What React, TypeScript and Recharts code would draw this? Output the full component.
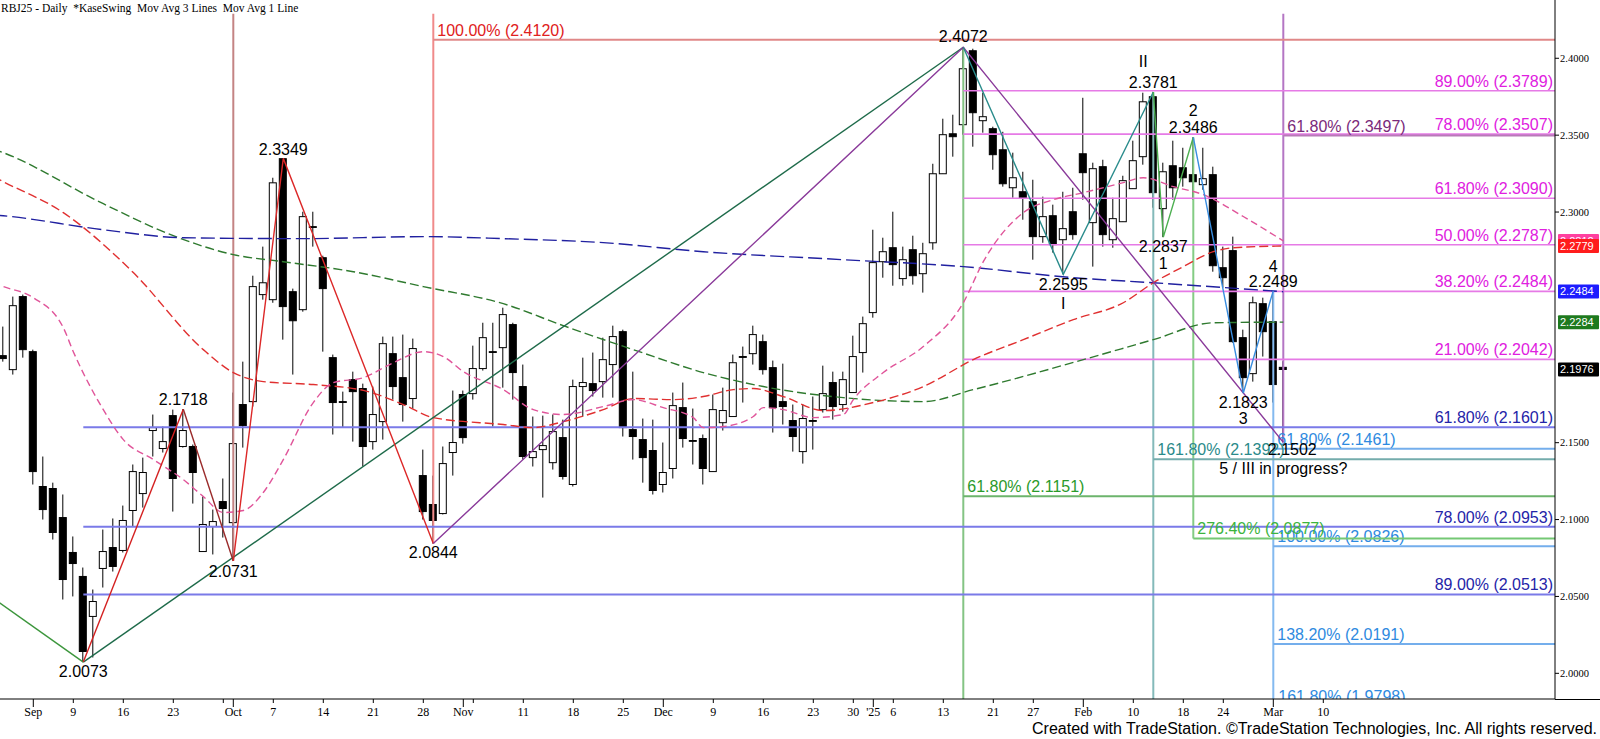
import React from 'react';
import { ComposedChart, Bar, Line, XAxis, YAxis, ReferenceLine, ReferenceDot } from 'recharts';

const SANS = '"Liberation Sans", Arial, sans-serif';
const SERIF = '"Liberation Serif", "Times New Roman", serif';

const X_MIN = -0.33;
const X_MAX = 155.17;
const Y_MIN = 1.9833;
const Y_MAX = 2.4379;
const TOP_P = 2.4289;
const PLOT_BOTTOM = 699;

// ---------- candles (index 0 = Aug 28, 2024 ... 128 = Mar 4, 2025) ----------
const opens = [
  2.2066, 2.1975, 2.2450, 2.2092, 2.1215, 2.1202, 2.1013, 2.0786, 2.0630, 2.0370,
  2.0682, 2.0818, 2.0799, 2.1059, 2.1169, 2.1579, 2.1462, 2.1676, 2.1475, 2.1475,
  2.0792, 2.0955, 2.1117, 2.0980, 2.1748, 2.1767, 2.2463, 2.2430, 2.3347, 2.2482,
  2.2365, 2.2905, 2.2703, 2.2053, 2.1767, 2.1910, 2.1852, 2.1507, 2.1637, 2.2079,
  2.1923, 2.1787, 2.1286, 2.1098, 2.1039, 2.1436, 2.1813, 2.1819, 2.1982, 2.2092,
  2.2118, 2.2268, 2.1865, 2.1403, 2.1455, 2.1370, 2.1533, 2.1228, 2.1865, 2.1884,
  2.1897, 2.2008, 2.2222, 2.1585, 2.1520, 2.1449, 2.1228, 2.1332, 2.1728, 2.1514,
  2.1527, 2.1312, 2.1630, 2.1670, 2.2060, 2.2079, 2.2157, 2.1988, 2.1767, 2.1644,
  2.1442, 2.1644, 2.1715, 2.1891, 2.1748, 2.1826, 2.2086, 2.2346, 2.2677, 2.2768,
  2.2567, 2.2755, 2.2599, 2.2800, 2.3249, 2.3509, 2.3568, 2.4049, 2.3594, 2.3542,
  2.3405, 2.3158, 2.3132, 2.3067, 2.2840, 2.2976, 2.2820, 2.3002, 2.3379, 2.2931,
  2.3295, 2.2820, 2.2937, 2.3152, 2.3360, 2.3750, 2.3022, 2.3301, 2.3288, 2.3243,
  2.3178, 2.3243, 2.2638, 2.2749, 2.2183, 2.1949, 2.2404, 2.2287, 2.1990,
];
const highs = [
  2.2255, 2.2450, 2.2463, 2.2105, 2.1410, 2.1240, 2.1163, 2.0890, 2.0688, 2.0545,
  2.0935, 2.1007, 2.1091, 2.1358, 2.1403, 2.1683, 2.1605, 2.1715, 2.1718, 2.1488,
  2.1150, 2.1065, 2.1267, 2.1826, 2.2027, 2.2586, 2.2775, 2.3223, 2.3349, 2.2502,
  2.3002, 2.3002, 2.2716, 2.2073, 2.1832, 2.1962, 2.1884, 2.1865, 2.2190, 2.2190,
  2.2203, 2.2177, 2.1455, 2.1286, 2.1475, 2.1839, 2.1839, 2.2131, 2.2280, 2.2280,
  2.2378, 2.2280, 2.2008, 2.1670, 2.1676, 2.1683, 2.1650, 2.1910, 2.2053, 2.2086,
  2.2183, 2.2261, 2.2235, 2.1962, 2.1657, 2.1650, 2.1501, 2.1826, 2.1891, 2.1722,
  2.1553, 2.1813, 2.1858, 2.2073, 2.2125, 2.2261, 2.2203, 2.2034, 2.2014, 2.1748,
  2.1748, 2.1800, 2.2001, 2.1962, 2.1962, 2.2196, 2.2320, 2.2885, 2.2833, 2.3002,
  2.2775, 2.2846, 2.2800, 2.3314, 2.3607, 2.3633, 2.4072, 2.4062, 2.3776, 2.3555,
  2.3522, 2.3386, 2.3262, 2.3210, 2.3100, 2.3048, 2.3132, 2.3158, 2.3743, 2.3321,
  2.3340, 2.3093, 2.3236, 2.3464, 2.3776, 2.3781, 2.3321, 2.3464, 2.3418, 2.3486,
  2.3418, 2.3295, 2.2775, 2.2840, 2.2235, 2.2450, 2.2443, 2.2489, 2.2030,
];
const lows = [
  2.2027, 2.1943, 2.2053, 2.1228, 2.1000, 2.0870, 2.0480, 2.0500, 2.0073, 2.0103,
  2.0558, 2.0662, 2.0786, 2.0955, 2.1078, 2.1410, 2.1436, 2.1052, 2.1468, 2.1104,
  2.0792, 2.0773, 2.0883, 2.0731, 2.1468, 2.1735, 2.2430, 2.2410, 2.2170, 2.1943,
  2.2352, 2.2775, 2.2092, 2.1553, 2.1598, 2.1507, 2.1345, 2.1455, 2.1520, 2.1780,
  2.1637, 2.1722, 2.1000, 2.0844, 2.1033, 2.1286, 2.1494, 2.1780, 2.1969, 2.1605,
  2.1858, 2.1780, 2.1390, 2.1345, 2.1143, 2.1325, 2.1260, 2.1215, 2.1670, 2.1800,
  2.1793, 2.1793, 2.1540, 2.1390, 2.1240, 2.1163, 2.1176, 2.1267, 2.1468, 2.1358,
  2.1228, 2.1312, 2.1579, 2.1670, 2.1761, 2.2008, 2.1943, 2.1566, 2.1618, 2.1442,
  2.1364, 2.1455, 2.1696, 2.1650, 2.1702, 2.1826, 2.1956, 2.2313, 2.2573, 2.2521,
  2.2521, 2.2528, 2.2476, 2.2755, 2.3249, 2.3360, 2.3503, 2.3425, 2.3516, 2.3275,
  2.3165, 2.3093, 2.2950, 2.2690, 2.2800, 2.2736, 2.2595, 2.2820, 2.3080, 2.2645,
  2.2775, 2.2768, 2.2937, 2.3152, 2.3308, 2.3028, 2.2837, 2.3080, 2.3165, 2.3080,
  2.3145, 2.2612, 2.2508, 2.2150, 2.1823, 2.1897, 2.2060, 2.1761, 2.1502,
];
const closes = [
  2.2047, 2.2391, 2.2105, 2.1312, 2.1065, 2.0916, 2.0610, 2.0714, 2.0142, 2.0467,
  2.0792, 2.0695, 2.0994, 2.1312, 2.1306, 2.1598, 2.1507, 2.1267, 2.1579, 2.1306,
  2.0968, 2.0987, 2.1072, 2.1494, 2.1611, 2.2515, 2.2540, 2.3190, 2.2385, 2.2293,
  2.2970, 2.2901, 2.2502, 2.1761, 2.1764, 2.1832, 2.1475, 2.1683, 2.2144, 2.1865,
  2.1748, 2.2112, 2.1052, 2.0994, 2.1364, 2.1501, 2.1533, 2.1982, 2.2183, 2.2089,
  2.2333, 2.1956, 2.1410, 2.1442, 2.1481, 2.1572, 2.1280, 2.1865, 2.1891, 2.1839,
  2.2040, 2.2190, 2.1598, 2.1540, 2.1403, 2.1189, 2.1306, 2.1741, 2.1527, 2.1511,
  2.1332, 2.1715, 2.1709, 2.2020, 2.2056, 2.2203, 2.1975, 2.1728, 2.1735, 2.1540,
  2.1657, 2.1640, 2.1819, 2.1735, 2.1910, 2.2060, 2.2274, 2.2671, 2.2742, 2.2658,
  2.2690, 2.2586, 2.2729, 2.3249, 2.3503, 2.3490, 2.3932, 2.3646, 2.3620, 2.3373,
  2.3184, 2.3223, 2.3093, 2.2840, 2.2970, 2.2788, 2.2892, 2.2853, 2.3256, 2.3282,
  2.2853, 2.2957, 2.3204, 2.3334, 2.3717, 2.3126, 2.3262, 2.3158, 2.3223, 2.3197,
  2.3217, 2.2651, 2.2573, 2.2157, 2.1923, 2.2410, 2.2222, 2.1878, 2.1976,
];

// ---------- moving averages (sampled) ----------
const maGreen: [number, number][] = [
  [-1, 2.3410], [0, 2.3386], [10, 2.3054], [17, 2.2846], [23, 2.2723], [28, 2.2677], [35, 2.2612],
  [42, 2.2515], [50, 2.2404], [56, 2.2261], [63, 2.2105], [70, 2.1956], [76, 2.1865], [84, 2.1793],
  [92, 2.1767], [97, 2.1845], [108, 2.2040], [115, 2.2170], [121, 2.2280], [128, 2.2284],
];
const maBlue: [number, number][] = [
  [-1, 2.2982], [0, 2.2976], [10, 2.2885], [18, 2.2833], [30, 2.2827], [42, 2.2840], [50, 2.2827],
  [60, 2.2801], [70, 2.2742], [84, 2.2690], [96, 2.2645], [107, 2.2573], [115, 2.2540], [128, 2.2482],
];
const maRed: [number, number][] = [
  [-1, 2.3230], [0, 2.3197], [6, 2.2996], [13, 2.2606], [20, 2.2105], [23, 2.1956], [26, 2.1897],
  [31, 2.1878], [36, 2.1840], [40, 2.1748], [43, 2.1663], [50, 2.1618], [53, 2.1598], [56, 2.1637],
  [60, 2.1715], [63, 2.1787], [67, 2.1780], [70, 2.1800], [73, 2.1845], [75, 2.1852], [78, 2.1800],
  [82, 2.1709], [87, 2.1761], [92, 2.1865], [97, 2.2040], [102, 2.2170], [107, 2.2300], [112, 2.2410],
  [115, 2.2540], [118, 2.2645], [121, 2.2742], [123, 2.2768], [128, 2.2779],
];
const maPink: [number, number][] = [
  [-1, 2.2540], [0, 2.2515], [3, 2.2443], [6, 2.2248], [7, 2.2092], [10, 2.1715], [12, 2.1520],
  [15, 2.1390], [18, 2.1260], [20, 2.1150], [22, 2.1046], [24, 2.1059], [26, 2.1176], [28, 2.1390],
  [31, 2.1761], [33, 2.1890], [36, 2.1923], [39, 2.2020], [42, 2.2092], [44, 2.2060], [46, 2.1962],
  [50, 2.1845], [53, 2.1715], [56, 2.1683], [60, 2.1735], [63, 2.1780], [66, 2.1728], [69, 2.1663],
  [70, 2.1598], [72, 2.1605], [75, 2.1670], [76, 2.1728], [78, 2.1715], [81, 2.1663], [84, 2.1683],
  [85, 2.1780], [88, 2.1956], [92, 2.2125], [96, 2.2410], [98, 2.2677], [102, 2.2996], [105, 2.3080],
  [108, 2.3126], [112, 2.3191], [114, 2.3223], [117, 2.3165], [120, 2.3113], [124, 2.2971], [128, 2.2812],
];

// ---------- swing lines ----------
const greenLead: [number, number][] = [[-1, 2.0487], [8, 2.0073]];
const greenRise: [number, number][] = [[8, 2.0073], [96, 2.4072]];
const redUp: [number, number][] = [[8, 2.0073], [18, 2.1718]];
const redDown: [number, number][] = [[18, 2.1718], [23, 2.0731]];
const redZig: [number, number][] = [[23, 2.0731], [28, 2.3349], [43, 2.0844]];
const purpleSwing: [number, number][] = [[43, 2.0844], [96, 2.4072], [128, 2.1502]];
const tealSwing: [number, number][] = [[96, 2.4072], [106, 2.2595], [115, 2.3781]];
const greenWave: [number, number][] = [[115, 2.3781], [116, 2.2837], [119, 2.3486]];
const blueWave: [number, number][] = [[119, 2.3486], [124, 2.1823], [127, 2.2489]];

// ---------- fib levels ----------
const magentaFibs: [string, number][] = [
  ['89.00%', 2.3789], ['78.00%', 2.3507], ['61.80%', 2.3090], ['50.00%', 2.2787], ['38.20%', 2.2484], ['21.00%', 2.2042],
];
const magentaStart = 96;
const blueFibs: [string, number][] = [['61.80%', 2.1601], ['78.00%', 2.0953], ['89.00%', 2.0513]];
const blueStart = 8;
const lightBlueFibs: [string, number][] = [['61.80%', 2.1461], ['100.00%', 2.0826], ['138.20%', 2.0191]];
const lightBlueLow: [string, number] = ['161.80%', 1.9798];
const lightBlueStart = 127;
const redFib: [string, number] = ['100.00%', 2.4120];
const redFibStart = 43;
const purpleFib: [string, number] = ['61.80%', 2.3497];
const purpleFibStart = 128;
const tealFib: [string, number] = ['161.80%', 2.1392];
const tealFibStart = 115;
const greenFibA: [string, number] = ['61.80%', 2.1151];
const greenFibAStart = 96;
const greenFibB: [string, number] = ['276.40%', 2.0877];
const greenFibBStart = 119;

// vertical markers: [index, from price, to price]
const vRedA: [number, number, number] = [23, TOP_P, 2.0731];
const vRedB: [number, number, number] = [43, TOP_P, 2.0844];
const vGreenA: [number, number, number] = [96, 2.4072, Y_MIN];
const vTeal: [number, number, number] = [115, 2.3781, Y_MIN];
const vGreenB: [number, number, number] = [119, 2.3486, 2.0877];
const vLightBlue: [number, number, number] = [127, 2.2489, Y_MIN];
const vPurple: [number, number, number] = [128, TOP_P, 2.1502];

// ---------- notes ----------
const notes: [number, number, string][] = [
  [28, 2.3349, '2.3349'], [18, 2.1718, '2.1718'], [23, 2.0731, '2.0731'], [8, 2.0073, '2.0073'],
  [43, 2.0844, '2.0844'], [96, 2.4072, '2.4072'], [115, 2.3781, '2.3781'], [115, 2.3781, 'II'],
  [119, 2.3486, '2.3486'], [119, 2.3486, '2'], [116, 2.2837, '2.2837'], [116, 2.2837, '1'],
  [106, 2.2595, '2.2595'], [106, 2.2595, 'I'], [124, 2.1823, '2.1823'], [124, 2.1823, '3'],
  [127, 2.2489, '2.2489'], [127, 2.2489, '4'], [128, 2.1502, '2.1502'], [128, 2.1502, '5 / III in progress?'],
];
const noteOffsets: [number, number][] = [
  [0, -3.6], [0, -3.8], [0, 16.2], [0, 15.4], [0, 14.7], [0, -5], [0, -4.2], [-10, -24.8],
  [0, -4.5], [0, -21.8], [0, 15], [0, 31.6], [0, 16.1], [0, 34.4], [0, 14.7], [0, 30.7],
  [0, -3.5], [0, -18.5], [9, 12.9], [0, 31.9],
];

// ---------- right-axis price tags ----------
const priceTags: [number, string][] = [
  [2.2812, '#ff40a0'], [2.2779, '#ff1c1c'], [2.2484, '#1c1cff'], [2.2284, '#1e7a1e'], [2.1976, '#000000'],
];

// ---------- axes ----------
const yTicks = [2.0, 2.05, 2.1, 2.15, 2.3, 2.35, 2.4];
const xTickIdx = [3, 7, 12, 17, 22, 23, 27, 32, 37, 42, 46, 47, 52, 57, 62, 66, 71, 76, 81, 85, 87, 89, 94, 99, 103, 108, 113, 118, 122, 127, 132];
const xTickLbl = ['Sep', '9', '16', '23', '', 'Oct', '7', '14', '21', '28', 'Nov', '', '11', '18', '25', 'Dec', '9', '16', '23', '30', "'25", '6', '13', '21', '27', 'Feb', '10', '18', '24', 'Mar', '10'];
const majorTicks = [3, 23, 46, 66, 87, 108, 127];

// ---------- build table ----------
const rows: any[] = [];
for (let i = -1; i < opens.length; i++) {
  const r: any = { i };
  if (i >= 0) {
    r.o = opens[i]; r.h = highs[i]; r.l = lows[i]; r.c = closes[i];
    r.hl = [lows[i], highs[i]];
  }
  rows.push(r);
}
const put = (key: string, pts: [number, number][]) => pts.forEach(([i, v]) => { rows[i + 1][key] = v; });
put('maGreen', maGreen); put('maBlue', maBlue); put('maRed', maRed); put('maPink', maPink);
put('greenLead', greenLead); put('greenRise', greenRise); put('redUp', redUp); put('redDown', redDown);
put('redZig', redZig); put('purpleSwing', purpleSwing); put('tealSwing', tealSwing);
put('greenWave', greenWave); put('blueWave', blueWave);

// ---------- shapes ----------
function CandleShape(props: any) {
  const d = props.payload ?? props;
  const { x, y, width, height } = props;
  if (!d || d.h == null || x == null || y == null) return null;
  let top = y, hh = height;
  if (hh < 0) { top = y + hh; hh = -hh; }
  const cx = x + width / 2;
  const range = d.h - d.l;
  const k = range > 0 ? hh / range : 0;
  const py = (v: number) => top + (d.h - v) * k;
  const bTop = py(Math.max(d.o, d.c));
  const bBot = py(Math.min(d.o, d.c));
  const up = d.c > d.o;
  const bw = 7;
  return (
    <g>
      <line x1={cx} x2={cx} y1={top} y2={top + hh} stroke="#000" strokeWidth={1} />
      <rect x={cx - bw / 2} y={bTop} width={bw} height={Math.max(bBot - bTop, 0.8)} fill={up ? '#fff' : '#000'} stroke="#000" strokeWidth={1} />
    </g>
  );
}

function XTick(props: any) {
  const { x, y, payload } = props;
  const idx = xTickIdx.indexOf(payload.value);
  const lbl = idx >= 0 ? xTickLbl[idx] : '';
  const major = majorTicks.includes(payload.value);
  return (
    <g>
      <line x1={x} x2={x} y1={y} y2={y + (major ? 8 : 4)} stroke="#000" strokeWidth={1} />
      {lbl ? <text x={x} y={y + 17} textAnchor="middle" fontSize={12} fontFamily={SERIF} fill="#000">{lbl}</text> : null}
    </g>
  );
}

function YTick(props: any) {
  const { x, y, payload } = props;
  return (
    <g>
      <line x1={x} x2={x + 4} y1={y} y2={y} stroke="#000" strokeWidth={1} />
      <text x={x + 5} y={y + 3.5} fontSize={10.5} fontFamily={SERIF} fill="#000">{Number(payload.value).toFixed(4)}</text>
    </g>
  );
}

const fibLabel = (text: string, color: string, anchor: 'start' | 'end') => (props: any) => {
  const vb = props.viewBox || {};
  const tx = anchor === 'end' ? vb.x + vb.width - 2 : vb.x + 4;
  return (
    <text x={tx} y={vb.y - 4} fill={color} fontSize={16} fontFamily={SANS} textAnchor={anchor}>{text}</text>
  );
};

// label for a level that lies just under the visible price range: drawn at the plot floor, clipped by it
const floorLabel = (text: string, color: string) => (props: any) => {
  const vb = props.viewBox || {};
  return (
    <g>
      <defs>
        <clipPath id="floorClip"><rect x={0} y={0} width={1600} height={PLOT_BOTTOM} /></clipPath>
      </defs>
      <text x={vb.x + 5} y={PLOT_BOTTOM + 2.5} fill={color} fontSize={16} fontFamily={SANS} clipPath="url(#floorClip)">{text}</text>
    </g>
  );
};

const noteLabel = (text: string, dx: number, dy: number) => (props: any) => {
  const vb = props.viewBox || {};
  const cx = vb.x + (vb.width || 0) / 2;
  const cy = vb.y + (vb.height || 0) / 2;
  return (
    <text x={cx + dx} y={cy + dy} fill="#000" fontSize={16} fontFamily={SANS} textAnchor="middle">{text}</text>
  );
};

const tagLabel = (text: string, color: string) => (props: any) => {
  const vb = props.viewBox || {};
  const cx = vb.x + (vb.width || 0) / 2;
  const cy = vb.y + (vb.height || 0) / 2;
  return (
    <g>
      <rect x={cx + 3} y={cy - 7} width={41} height={14} fill={color} rx={1} />
      <text x={cx + 5} y={cy + 4} fill="#fff" fontSize={11} fontFamily={SANS}>{text}</text>
    </g>
  );
};

const fmt = (pct: string, v: number) => `${pct} (${v.toFixed(4)})`;

const hLine = (key: string, start: number, level: [string, number], stroke: string, width: number, labelColor: string, anchor: 'start' | 'end') => (
  <ReferenceLine
    key={key}
    segment={[{ x: start, y: level[1] }, { x: X_MAX, y: level[1] }]}
    stroke={stroke}
    strokeWidth={width}
    ifOverflow="visible"
    label={fibLabel(fmt(level[0], level[1]), labelColor, anchor)}
  />
);

const vLine = (key: string, v: [number, number, number], stroke: string) => (
  <ReferenceLine
    key={key}
    segment={[{ x: v[0], y: v[1] }, { x: v[0], y: v[2] }]}
    stroke={stroke}
    strokeWidth={2}
    ifOverflow="visible"
  />
);

const swing = (key: string, color: string) => (
  <Line key={key} dataKey={key} type="linear" stroke={color} strokeWidth={1.4} dot={false} activeDot={false} connectNulls isAnimationActive={false} />
);

const ma = (key: string, color: string, dash: string) => (
  <Line key={key} dataKey={key} type="monotone" stroke={color} strokeWidth={1.4} strokeDasharray={dash} dot={false} activeDot={false} connectNulls isAnimationActive={false} />
);

export default function App() {
  return (
    <div style={{ position: 'absolute', left: 0, top: 0, width: 1600, height: 739, background: '#fff', overflow: 'hidden' }}>
      <ComposedChart width={1600} height={739} data={rows} margin={{ top: 0, right: 0, bottom: 0, left: 0 }}>
        <XAxis
          dataKey="i"
          type="number"
          domain={[X_MIN, X_MAX]}
          allowDataOverflow
          ticks={xTickIdx}
          interval={0}
          tick={<XTick />}
          tickLine={false}
          tickSize={0}
          tickMargin={0}
          height={40}
          axisLine={{ stroke: '#000', strokeWidth: 1 }}
        />
        <YAxis
          orientation="right"
          type="number"
          domain={[Y_MIN, Y_MAX]}
          allowDataOverflow
          ticks={yTicks}
          interval={0}
          tick={<YTick />}
          tickLine={false}
          tickSize={0}
          tickMargin={0}
          width={45}
          axisLine={{ stroke: '#000', strokeWidth: 1 }}
        />

        {vLine('vRedA', vRedA, '#c48484')}
        {vLine('vRedB', vRedB, '#f08a8a')}
        {vLine('vGreenA', vGreenA, '#84c484')}
        {vLine('vTeal', vTeal, '#84baba')}
        {vLine('vGreenB', vGreenB, '#84cc84')}
        {vLine('vLightBlue', vLightBlue, '#84baf0')}
        {vLine('vPurple', vPurple, '#b476c4')}

        {hLine('redFib', redFibStart, redFib, '#e08888', 2, '#e02020', 'start')}
        {magentaFibs.map((f, k) => hLine('mag' + k, magentaStart, f, '#e67ae6', 1.6, '#e020e0', 'end'))}
        {hLine('purpleFib', purpleFibStart, purpleFib, '#b87ab8', 2, '#7a2a7a', 'start')}
        {blueFibs.map((f, k) => hLine('blue' + k, blueStart, f, '#7a7ae8', 2, '#2424a8', 'end'))}
        {lightBlueFibs.map((f, k) => hLine('lb' + k, lightBlueStart, f, '#74aeec', 2, '#2e8ae0', 'start'))}
        <ReferenceLine
          segment={[{ x: lightBlueStart, y: Y_MIN }, { x: X_MAX, y: Y_MIN }]}
          stroke="#74aeec"
          strokeOpacity={0}
          ifOverflow="visible"
          label={floorLabel(fmt(lightBlueLow[0], lightBlueLow[1]), '#2e8ae0')}
        />
        {hLine('tealFib', tealFibStart, tealFib, '#74acac', 2, '#2a8a8a', 'start')}
        {hLine('greenFibA', greenFibAStart, greenFibA, '#6cb46c', 2, '#2a9a2a', 'start')}
        {hLine('greenFibB', greenFibBStart, greenFibB, '#74c874', 2, '#3cb43c', 'start')}

        {ma('maGreen', '#2f7a2f', '9 4')}
        {ma('maBlue', '#2020a0', '14 5')}
        {ma('maRed', '#e03030', '9 4')}
        {ma('maPink', '#e0559a', '7 4')}

        <Bar dataKey="hl" barSize={7} shape={<CandleShape />} isAnimationActive={false} />

        {swing('greenLead', '#3c963c')}
        {swing('greenRise', '#1e6b4a')}
        {swing('redUp', '#d42020')}
        {swing('redDown', '#9a2a2a')}
        {swing('redZig', '#dc2828')}
        {swing('purpleSwing', '#8a3a9a')}
        {swing('tealSwing', '#2a8c8c')}
        {swing('greenWave', '#4caf50')}
        {swing('blueWave', '#3a8ee0')}

        {notes.map((n, k) => (
          <ReferenceDot key={'n' + k} x={n[0]} y={n[1]} r={1} fill="none" stroke="none" ifOverflow="visible"
            label={noteLabel(n[2], noteOffsets[k][0], noteOffsets[k][1])} />
        ))}
        {priceTags.map((t, k) => (
          <ReferenceDot key={'t' + k} x={X_MAX} y={t[0]} r={1} fill="none" stroke="none" ifOverflow="visible"
            label={tagLabel(t[0].toFixed(4), t[1])} />
        ))}
      </ComposedChart>

      <div style={{ position: 'absolute', left: 1, top: 0, fontFamily: SERIF, fontSize: 11.5, whiteSpace: 'pre', color: '#000', lineHeight: '16px' }}>
        {'RBJ25 - Daily  *KaseSwing  Mov Avg 3 Lines  Mov Avg 1 Line'}
      </div>
      <div style={{ position: 'absolute', left: 1555, top: 699, width: 45, height: 1, background: '#000' }} />
      <div style={{ position: 'absolute', right: 3, top: 719, fontFamily: SANS, fontSize: 16, whiteSpace: 'pre', color: '#000', lineHeight: '20px' }}>
        {'Created with TradeStation. \u00A9TradeStation Technologies, Inc. All rights reserved.'}
      </div>
    </div>
  );
}
